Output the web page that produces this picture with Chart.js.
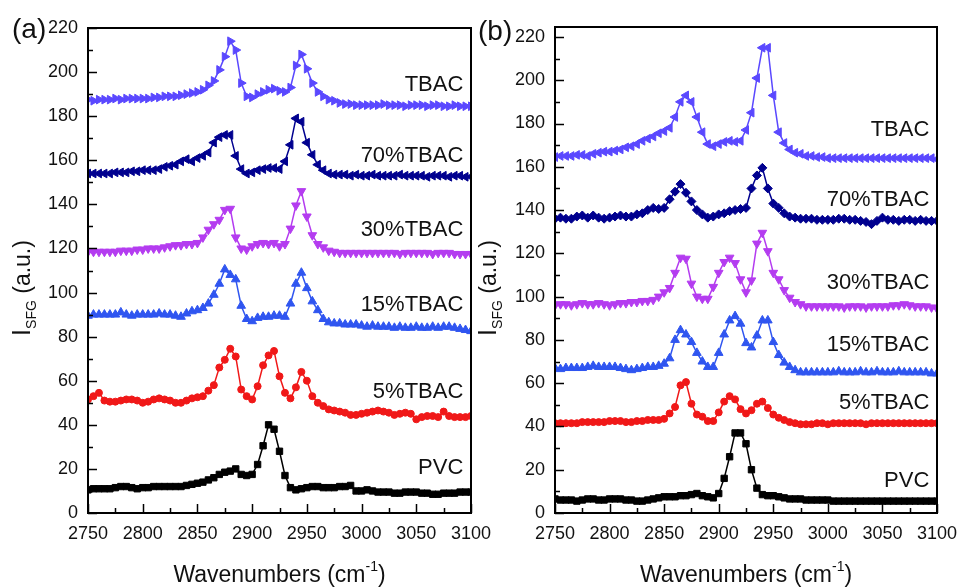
<!DOCTYPE html>
<html>
<head>
<meta charset="utf-8">
<script src="https://cdn.jsdelivr.net/npm/chart.js@4.4.1/dist/chart.umd.min.js"></script>
<style>
  html, body { margin: 0; padding: 0; background: #fff; }
  #wrap { position: relative; width: 958px; height: 587px; }
  #wrap canvas { position: absolute; left: 0; top: 0; }
</style>
</head>
<body>
<div id="wrap">
  <canvas id="chartA" width="958" height="587"></canvas>
  <canvas id="chartB" width="958" height="587"></canvas>
</div>
<script>
// SFG spectra, two panels: (a) and (b)
const wavenumbers = [2750,2755,2760,2765,2770,2775,2780,2785,2790,2795,
  2800,2805,2810,2815,2820,2825,2830,2835,2840,2845,
  2850,2855,2860,2865,2870,2875,2880,2885,2890,2895,
  2900,2905,2910,2915,2920,2925,2930,2935,2940,2945,
  2950,2955,2960,2965,2970,2975,2980,2985,2990,2995,
  3000,3005,3010,3015,3020,3025,3030,3035,3040,3045,
  3050,3055,3060,3065,3070,3075,3080,3085,3090,3095,
  3100];

// panel (a)
const aTBAC = [187.5,187,187.5,187.5,187.5,188,187.5,188,188,188,
  188,188,188.5,188.5,189,189,189,189.5,190,190.5,
  191,192,194,196,201,207,214,210,195,189,
  188.5,190,191,192,192.5,191.5,191,193,203,208,
  201.5,195,191,189,187.5,187,186,185.5,185.5,185,
  185,185,185,185,185.5,185,185,185,184.5,185,
  185,185,184.5,185,185,184.5,184.5,185,184.5,184.5,
  184.5];
const a70 = [154,154,154,154,154,154.5,154.5,154.5,155,155,
  155.5,155.5,155.5,156,157,157.5,158,159.5,160.5,159.5,
  161,162,163.5,168,170.5,171.5,171.5,162,156,154,
  154.5,155.5,156,156.5,156.5,156,159.5,167,179,177.5,
  168,162.5,158,155.5,154,153.5,153.5,153.5,153,153.5,
  153,153,153.5,153,153,153,153,153.5,153,153,
  153,153,152.5,153,153,153,152.5,153,153,152.5,
  152.5];
const a30 = [118.5,118.5,118.5,118.5,118.5,118.5,119,119,119,119.5,
  119.5,120,120,120,120.5,121,121.5,121.5,122,122,
  122.5,125,128.5,131,133,137.5,138,125,120,119.5,
  121,122,122.5,122,122.5,121,122,129,139.5,146,
  134.5,126,122,120.5,119,118.5,118,118,118,118,
  118,118,118,118,118,118,118,117.5,118,118,
  118,118,118,117.5,118,118,118,117.5,117.5,117.5,
  117.5];
const a15 = [89.5,90,90,90,90,90,91,90,89.5,90,
  90,90,90,90.5,90,90,89.5,89,90.5,91.5,
  92,93,95,99,104,110.5,108,106,94,88,
  87,88.5,89,89,89.5,89.5,89,95,104,109,
  102,96,92,88,86.5,86,86,85.5,85.5,85.5,
  85,84.5,85,84.5,84.5,84.5,84,84.5,84,84,
  84.5,84,84,84.5,84,84.5,84.5,84,83.5,83,
  82.5];
const a5 = [51.5,53,54.5,51,50.5,50.5,51,51.5,51.5,51,
  50,50.5,51.5,52,51.5,51,50,50,51,52,
  52.5,53,55.5,58,66,69.5,74.5,71,56,53,
  51.5,57.5,67,71.5,73.5,62,54.5,52,57,64,
  60,53,50,48.5,47,46.5,46,45.5,44.5,44.5,
  45,45.5,46,46.5,46,45.5,44.5,45,45.5,45,
  42.5,43.5,44,44,43.5,46,44,43.5,43.5,43.5,
  44];
const aPVC = [10.5,11,11,11,11,11.5,12,12,11.5,11,
  11.5,11.5,12,12,12,12,12,12,12.5,13,
  13.5,14,15,16,17.5,18.5,19,20,17.5,17,
  17.5,22,30.5,40,38,28,17,11.5,10.5,11,
  11.5,12,12,11.5,11.5,11.5,12,12,12.5,10,
  10,10.5,10,9.5,9.5,9.5,9,9,9.5,9.5,
  9.5,9,9,8.5,8.5,9,9,9,9.5,9.5,
  9.5];

// panel (b)
const bTBAC = [164.5,165,165,165,165.5,165.5,165,166,166.5,167,
  167,167.5,168,169,169.5,170.5,172,173,174,175.5,
  176.5,178,183,190,193,190,183,176,170.5,169.5,
  170.5,171.5,172,171.5,172,177,185,201,215,215,
  193,176,171,168,166.5,166,165,165,164.5,164.5,
  164,164,164,164,164,164,164,164,164,164,
  164,164,164,164,164,164,164,164,164,164,
  163.5];
const b70 = [136,136.5,136,136,137,137.5,136.5,137.5,136.5,136,
  136.5,137,137.5,137,137,138,138.5,140,141,140.5,
  141,145,148.5,152,148,144,140,138,136.5,137,
  138,138.5,139.5,140,140.5,141,150,156,159.5,150,
  143,141,138.5,137,136.5,136,136,136,135.5,135.5,
  135.5,135.5,136,136,135.5,135.5,135,134.5,133.5,135,
  136.5,135.5,135.5,135,135.5,135.5,135,135.5,135,135,
  135];
const b30 = [96,96.5,96.5,96,96.5,97,96.5,96.5,97,96.5,
  96,96.5,97,97,97.5,97.5,98,98,98.5,100,
  102,104,111,118,117.5,106,100,99,99,104.5,
  111,116,118,115.5,108,102,107.5,124.5,129.5,121,
  111,108,103,99.5,97.5,96.5,95.5,95.5,95.5,95.5,
  95.5,95.5,95.5,95,95.5,95.5,95.5,95,95.5,95.5,
  95.5,95.5,96,96,96.5,96,95.5,95.5,95.5,95,
  94.5];
const b15 = [67,66.5,67,67,67,67,67.5,68,67.5,67.5,
  67.5,67.5,67,66.5,66,66.5,67,67.5,67.5,68,
  69,71.5,80,84.5,82.5,79,74,70,67.5,67.5,
  74,82.5,89,91,87.5,78.5,76.5,82,89,89,
  79,73,69.5,67.5,66,65,65,65,65,65,
  65,65,65.5,65,65,65,65.5,65,65,65.5,
  65,65,65,65.5,65,65,65,65,65,64.5,
  64.5];
const b5 = [41.5,41.5,41.5,41.5,41.5,42,42,42,42,42,
  42.5,42.5,42.5,42,42,42.5,42.5,43,43,43,
  43.5,46,49,59,60.5,50.5,45.5,44.5,42.5,42.5,
  46.5,51.5,54,52.5,48,46,47.5,50.5,51.5,48.5,
  45.5,44,43,42,41.5,41,41,41,41.5,41.5,
  41,41.5,41.5,41.5,41.5,41.5,41.5,41,41.5,41.5,
  41.5,41.5,41.5,41.5,41.5,41.5,41.5,41.5,41.5,41.5,
  41.5];
const bPVC = [6.5,6,6,6,5.5,6,6.5,6.5,6,6,
  6.5,6.5,6.5,6,6,5.5,5.5,6,6.5,7,
  7.5,7.5,7.5,8,8,8.5,9,8,7.5,7,
  9,16,26,37,37,32,20,11.5,8.5,8,
  8,7.5,7,6.5,6.5,6.5,6,6,6,6,
  6,5.5,5.5,5.5,5.5,5.5,5.5,5.5,5.5,5.5,
  5.5,5.5,5.5,5.5,5.5,5.5,5.5,5.5,5.5,5.5,
  5.5];

const seriesNames = ['TBAC', '70%TBAC', '30%TBAC', '15%TBAC', '5%TBAC', 'PVC'];
const seriesColors = ['#5a48ff', '#00008f', '#b43cf0', '#2f55f0', '#f01818', '#000000'];
// where the text labels sit (y value), label right edge at x = 3093
const labelYA = [194, 162, 128.5, 94.5, 55, 20.5];
const labelYB = [177, 144.5, 106.5, 77.5, 51, 15];

const FONT = '"Liberation Sans", Arial, sans-serif';

function toXY(vals) {
    return wavenumbers.map((w, i) => ({ x: w, y: vals[i] }));
}

function ds(vals, idx, style, rot, r) {
    return {
        data: toXY(vals),
        borderColor: seriesColors[idx],
        backgroundColor: seriesColors[idx],
        borderWidth: 1.5,
        pointStyle: style,
        pointRotation: rot,
        pointRadius: r,
        pointBorderWidth: 1,
        tension: 0
    };
}

// frame + inward major/minor ticks + all the text
function decorPlugin(panel) {
    return {
        id: 'decor' + panel.letter,
        afterDraw(chart) {
            const ctx = chart.ctx;
            const a = chart.chartArea;
            const xs = chart.scales.x, ys = chart.scales.y;
            ctx.save();
            ctx.strokeStyle = '#000';
            ctx.lineWidth = 1.5;
            const xv = xs.ticks.map(t => t.value);
            const yv = ys.ticks.map(t => t.value);
            ctx.beginPath();
            xv.forEach((v, i) => {
                const px = Math.round(xs.getPixelForValue(v)) + 0.5;
                ctx.moveTo(px, a.bottom); ctx.lineTo(px, a.bottom - 9);
                if (i < xv.length - 1) {
                    const mx = Math.round(xs.getPixelForValue((v + xv[i + 1]) / 2)) + 0.5;
                    ctx.moveTo(mx, a.bottom); ctx.lineTo(mx, a.bottom - 5);
                }
            });
            yv.forEach((v, i) => {
                const py = Math.round(ys.getPixelForValue(v)) + 0.5;
                ctx.moveTo(a.left, py); ctx.lineTo(a.left + 9, py);
                const nxt = i < yv.length - 1 ? yv[i + 1] : v + 20;
                if ((v + nxt) / 2 <= ys.max) {
                    const my = Math.round(ys.getPixelForValue((v + nxt) / 2)) + 0.5;
                    ctx.moveTo(a.left, my); ctx.lineTo(a.left + 5, my);
                }
            });
            ctx.stroke();
            ctx.lineWidth = 2;
            ctx.strokeRect(a.left, a.top, a.right - a.left, a.bottom - a.top);

            // series labels
            ctx.fillStyle = '#111';
            ctx.font = '22px ' + FONT;
            ctx.textAlign = 'right';
            ctx.textBaseline = 'middle';
            seriesNames.forEach((n, i) => {
                ctx.fillText(n, xs.getPixelForValue(3093), ys.getPixelForValue(panel.labelY[i]));
            });

            // panel letter
            ctx.textAlign = 'left';
            ctx.textBaseline = 'alphabetic';
            ctx.font = '28px ' + FONT;
            ctx.fillText('(' + panel.letter + ')', panel.letterX, panel.letterY);

            // x title with superscript
            const cx = (a.left + a.right) / 2;
            const base = 582;
            ctx.font = '23px ' + FONT;
            const p1 = 'Wavenumbers (cm', p3 = ')';
            const w1 = ctx.measureText(p1).width, w3 = ctx.measureText(p3).width;
            ctx.font = '14px ' + FONT;
            const p2 = '-1';
            const w2 = ctx.measureText(p2).width;
            let x0 = cx - (w1 + w2 + w3) / 2;
            ctx.font = '23px ' + FONT;
            ctx.fillText(p1, x0, base);
            ctx.font = '14px ' + FONT;
            ctx.fillText(p2, x0 + w1, base - 11);
            ctx.font = '23px ' + FONT;
            ctx.fillText(p3, x0 + w1 + w2, base);

            // y title, rotated, with subscript
            ctx.translate(panel.yTitleX, 288);
            ctx.rotate(-Math.PI / 2);
            ctx.font = '25px ' + FONT;
            const q1 = 'I';
            const v1 = ctx.measureText(q1).width;
            ctx.font = '14px ' + FONT;
            const q2 = 'SFG';
            const v2 = ctx.measureText(q2).width;
            ctx.font = '23px ' + FONT;
            const q3 = ' (a.u.)';
            const v3 = ctx.measureText(q3).width;
            let y0 = -(v1 + v2 + v3) / 2;
            ctx.font = '25px ' + FONT;
            ctx.fillText(q1, y0, 0);
            ctx.font = '14px ' + FONT;
            ctx.fillText(q2, y0 + v1, 6);
            ctx.font = '23px ' + FONT;
            ctx.fillText(q3, y0 + v1 + v2, 0);
            ctx.restore();
        }
    };
}

function makeChart(id, sets, panel) {
    return new Chart(document.getElementById(id), {
        type: 'line',
        data: { datasets: sets },
        options: {
            responsive: false,
            animation: false,
            layout: { padding: { left: panel.padLeft, right: panel.padRight, top: panel.padTop, bottom: 0 } },
            plugins: { legend: { display: false }, tooltip: { enabled: false } },
            scales: {
                x: {
                    type: 'linear', min: 2750, max: 3100,
                    grid: { display: false, drawTicks: false },
                    border: { display: false },
                    ticks: { stepSize: 50, padding: 10, color: '#111', font: { family: FONT, size: 18 },
                             callback: v => String(v) },
                    // labels may overhang the frame; don't let them squeeze the plot
                    afterFit(s) { s.height = 74; s.paddingLeft = 0; s.paddingRight = 0; }
                },
                y: {
                    min: 0, max: panel.yMax,
                    grid: { display: false, drawTicks: false },
                    border: { display: false },
                    ticks: { stepSize: 20, includeBounds: false, padding: 10, color: '#111', font: { family: FONT, size: 18 },
                             callback: v => String(v) },
                    afterFit(s) { s.width = panel.yWidth; }
                }
            }
        },
        plugins: [decorPlugin(panel)]
    });
}

makeChart('chartA', [
    ds(aTBAC, 0, 'triangle', 90, 5),
    ds(a70, 1, 'triangle', 270, 5),
    ds(a30, 2, 'triangle', 180, 5),
    ds(a15, 3, 'triangle', 0, 5),
    ds(a5, 4, 'circle', 0, 3.5),
    ds(aPVC, 5, 'rect', 0, 4.5)
], { letter: 'a', labelY: labelYA, yMax: 220, padLeft: 0, yWidth: 88, padRight: 487, padTop: 28,
     letterX: 12, letterY: 38, yTitleX: 30 });

makeChart('chartB', [
    ds(bTBAC, 0, 'triangle', 270, 5),
    ds(b70, 1, 'rectRot', 0, 4.5),
    ds(b30, 2, 'triangle', 180, 5),
    ds(b15, 3, 'triangle', 0, 5),
    ds(b5, 4, 'circle', 0, 3.5),
    ds(bPVC, 5, 'rect', 0, 4.5)
], { letter: 'b', labelY: labelYB, yMax: 224.6, padLeft: 478, yWidth: 77, padRight: 21, padTop: 27,
     letterX: 478, letterY: 40, yTitleX: 496 });
</script>
</body>
</html>
